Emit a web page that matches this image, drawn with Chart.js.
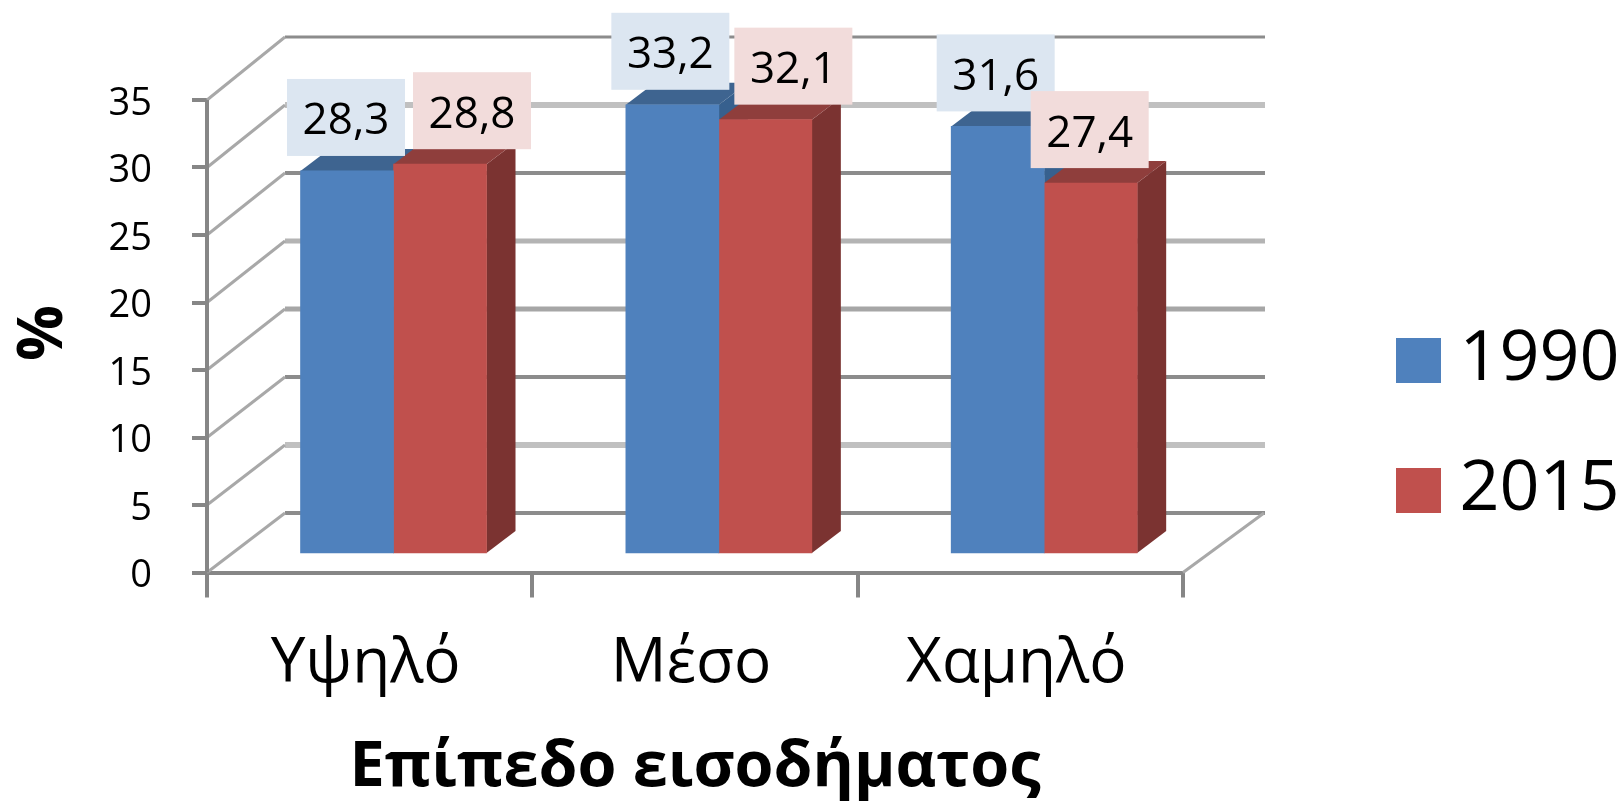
<!DOCTYPE html>
<html lang="el">
<head>
<meta charset="utf-8">
<title>Επίπεδο εισοδήματος</title>
<script src="https://cdn.jsdelivr.net/npm/chart.js@4"></script>
<style>
  html, body { margin: 0; padding: 0; background: #fff; }
  canvas { display: block; }
</style>
</head>
<body>
<canvas id="incomeChart" width="1623" height="802"></canvas>
<script>
// Data
const categories = ['Υψηλό', 'Μέσο', 'Χαμηλό'];
const categoryIndex = [0, 1, 2];
const values1990 = [28.3, 33.2, 31.6];
const values2015 = [28.8, 32.1, 27.4];
const tickValues = [0, 5, 10, 15, 20, 25, 30, 35];
const xTitle = 'Επίπεδο εισοδήματος';
const yTitle = '%';

const FONT = '"Open Sans", "Noto Sans", sans-serif';
const GREY = '#868686';

// The fake 3D look: everything sits on three y scales with the same unit
const AREA = { left: 207, right: 1183, top: 37, bottom: 572.5 };
const UNIT = 13.5;                 // px per 1% on axis and bars
const yMax = (AREA.bottom - AREA.top) / UNIT;
const barBase = 19.5 / UNIT;       // bars stand a bit behind the front edge
const WALL = { dx: 78 };
const DEPTH = { dx: 29, dy: 22 };

// back wall gridlines change weight in the scan, [colour, width] per tick
const wallLines = [
  ['#8c8c8c', 4], ['#c0c0c0', 6], ['#8c8c8c', 4], ['#a6a6a6', 5],
  ['#b4b4b4', 5], ['#8c8c8c', 4], ['#c0c0c0', 6], ['#8c8c8c', 3]
];

const look = [
  { front: '#4F81BD', side: '#37608E', top: '#3E6490', box: '#DCE6F1', shift: [-1, -2, -2] },
  { front: '#C0504D', side: '#7B3331', top: '#8F3E3C', box: '#F2DCDB', shift: [32, 28, -1] }
];

function formatValue(v) {
  return v.toFixed(1).replace('.', ',');
}

function polygon(ctx, pts, color) {
  ctx.fillStyle = color;
  ctx.beginPath();
  pts.forEach((p, i) => i ? ctx.lineTo(p[0], p[1]) : ctx.moveTo(p[0], p[1]));
  ctx.closePath();
  ctx.fill();
}

const wallPlugin = {
  id: 'wall',
  beforeDatasetsDraw(chart) {
    const { ctx, scales } = chart;
    const { left, right } = chart.chartArea;
    ctx.save();
    tickValues.forEach((v, i) => {
      const front = scales.y.getPixelForValue(v);
      const back = scales.yWall.getPixelForValue(v);
      // wall line
      ctx.strokeStyle = wallLines[i][0];
      ctx.lineWidth = wallLines[i][1];
      ctx.beginPath();
      ctx.moveTo(left + WALL.dx, back);
      ctx.lineTo(right + WALL.dx + 4, back);
      ctx.stroke();
      // side wall diagonal
      ctx.strokeStyle = '#a8a8a8';
      ctx.lineWidth = 3;
      ctx.beginPath();
      ctx.moveTo(left, front);
      ctx.lineTo(left + WALL.dx, back);
      ctx.stroke();
    });
    // floor diagonal on the right
    ctx.beginPath();
    ctx.moveTo(right, scales.y.getPixelForValue(0));
    ctx.lineTo(right + WALL.dx + 3, scales.yWall.getPixelForValue(0));
    ctx.stroke();
    // value axis line, stops at the top tick
    ctx.strokeStyle = GREY;
    ctx.lineWidth = 4;
    ctx.beginPath();
    ctx.moveTo(left, scales.y.getPixelForValue(35));
    ctx.lineTo(left, scales.y.getPixelForValue(0));
    ctx.stroke();

    // sides and tops of the bars, the fronts come from Chart.js after this
    chart.data.datasets.forEach((ds, d) => {
      chart.getDatasetMeta(d).data.forEach(bar => {
        const l = bar.x - bar.width / 2;
        const r = bar.x + bar.width / 2;
        polygon(ctx, [[r, bar.y], [r + DEPTH.dx, bar.y - DEPTH.dy], [r + DEPTH.dx, bar.base - DEPTH.dy], [r, bar.base]], look[d].side);
        polygon(ctx, [[l, bar.y], [l + DEPTH.dx, bar.y - DEPTH.dy], [r + DEPTH.dx, bar.y - DEPTH.dy], [r, bar.y]], look[d].top);
      });
    });
    ctx.restore();
  },
  afterDatasetsDraw(chart) {
    const { ctx } = chart;
    ctx.save();
    ctx.textAlign = 'center';
    ctx.textBaseline = 'middle';
    ctx.font = '44px ' + FONT;
    chart.data.datasets.forEach((ds, d) => {
      chart.getDatasetMeta(d).data.forEach((bar, i) => {
        const cx = bar.x + look[d].shift[i];
        const bottom = bar.y - 15;
        ctx.fillStyle = look[d].box;
        ctx.fillRect(cx - 59, bottom - 77, 118, 77);
        ctx.fillStyle = '#000';
        ctx.fillText(formatValue(ds.data[i].y), cx, bottom - 34);
      });
    });
    // % title, sits lower than the middle of the axis
    ctx.font = 'bold 62px ' + FONT;
    ctx.translate(44, 333);
    ctx.rotate(-Math.PI / 2);
    ctx.fillText(yTitle, 0, 0);
    ctx.restore();
  },
  // legend stays out of the layout, moved next to the plot here
  afterLayout(chart) {
    const lg = chart.legend;
    const w = lg.right - lg.left;
    const h = lg.bottom - lg.top;
    lg.left = 1412.5 - lg.options.labels.padding;
    lg.right = lg.left + w;
    lg.top = 325.5 - lg.options.labels.padding;
    lg.bottom = lg.top + h;
    if (lg.legendHitBoxes) lg.adjustHitBoxes();
  }
};

new Chart(document.getElementById('incomeChart'), {
  type: 'bar',
  data: {
    labels: categories,
    datasets: [
      {
        label: '1990',
        data: categoryIndex.map(i => ({ x: i, y: values1990[i] })),
        backgroundColor: look[0].front,
        xAxisID: 'xBar',
        yAxisID: 'yBar',
        barThickness: 93
      },
      {
        label: '2015',
        data: categoryIndex.map(i => ({ x: i, y: values2015[i] })),
        backgroundColor: look[1].front,
        xAxisID: 'xBar',
        yAxisID: 'yBar',
        barThickness: 93
      }
    ]
  },
  options: {
    responsive: false,
    animation: false,
    layout: {
      autoPadding: false,
      padding: { left: 0, top: AREA.top, right: 1623 - AREA.right, bottom: 0 }
    },
    plugins: {
      tooltip: { enabled: false },
      legend: {
        position: 'chartArea',
        align: 'start',
        fullSize: false,
        labels: {
          color: '#000',
          font: { family: FONT, size: 70 },
          boxWidth: 12,
          boxHeight: 12,
          padding: 60,
          generateLabels: chart => chart.data.datasets.map((ds, i) => ({
            text: ds.label,
            fillStyle: look[i].front,
            strokeStyle: look[i].front,
            lineWidth: 33,
            datasetIndex: i
          }))
        }
      }
    },
    scales: {
      x: {
        type: 'category',
        offset: true,
        afterFit: s => { s.height = 802 - AREA.bottom; },
        border: { color: GREY, width: 4 },
        grid: { offset: true, drawOnChartArea: false, color: GREY, lineWidth: 4, tickLength: 25 },
        ticks: { color: '#000', font: { family: FONT, size: 62 }, padding: 30, labelOffset: -4, maxRotation: 0 },
        title: { display: true, text: xTitle, color: '#000', font: { family: FONT, size: 63, weight: 'bold' }, padding: { top: 0, bottom: -4 } }
      },
      y: {
        min: 0,
        max: yMax,
        // tick padding would otherwise push the plot area down
        afterFit: s => { s.width = AREA.left; s.paddingTop = 0; s.paddingBottom = 0; },
        afterBuildTicks: s => { s.ticks = tickValues.map(v => ({ value: v })); },
        border: { display: false },
        grid: { drawOnChartArea: false, color: GREY, lineWidth: 4, tickLength: 15 },
        ticks: { color: '#000', font: { family: FONT, size: 38 }, padding: 40, labelOffset: 4 }
      },
      // hidden scales: bars in front, gridlines on the back wall
      xBar: {
        type: 'linear',
        display: false,
        offset: false,
        min: -0.5733,
        max: 2.4267
      },
      yBar: {
        display: false,
        min: -barBase,
        max: yMax - barBase
      },
      yWall: {
        display: false,
        min: -59.5 / 13.6,
        max: 35
      }
    }
  },
  plugins: [wallPlugin]
});
</script>
</body>
</html>
